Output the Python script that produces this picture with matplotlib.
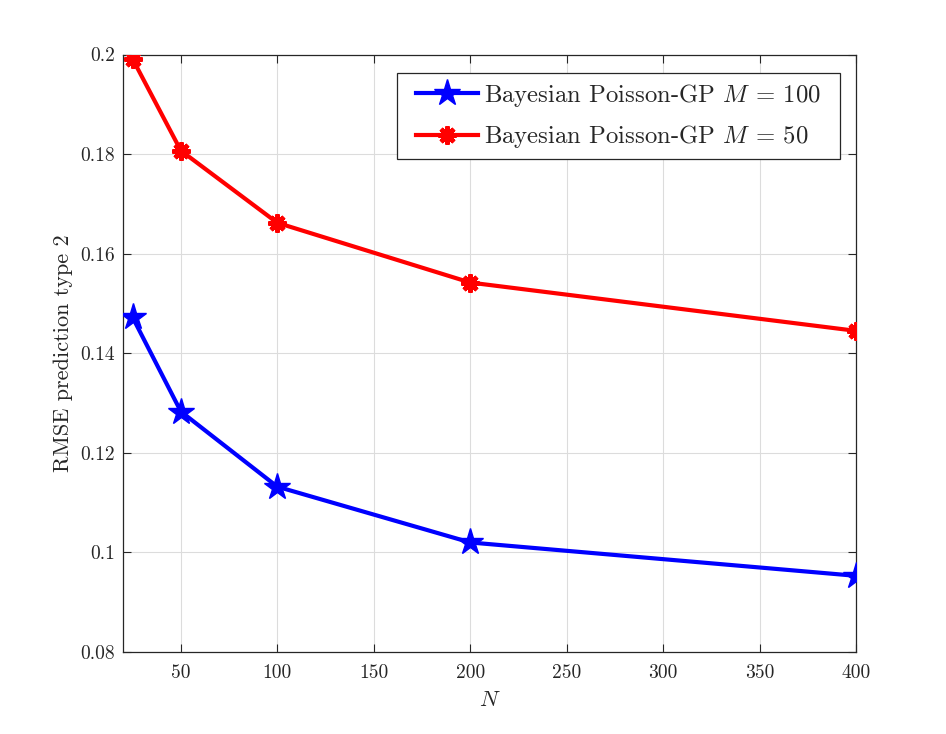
import matplotlib
matplotlib.use("Agg")
import matplotlib.pyplot as plt
from matplotlib.patches import Rectangle

plt.rcParams['font.family'] = ['serif']
plt.rcParams['font.serif'] = ['cmr10', 'DejaVu Serif']
plt.rcParams['mathtext.fontset'] = 'cm'
plt.rcParams['axes.formatter.use_mathtext'] = True

N = [25, 50, 100, 200, 400]
rmse_M100 = [0.1472, 0.1283, 0.1132, 0.1020, 0.0953]
rmse_M50 = [0.1991, 0.1807, 0.1662, 0.1542, 0.1445]
labels = [r'Bayesian Poisson-GP $M$ = 100', r'Bayesian Poisson-GP $M$ = 50']
xticks = [50, 100, 150, 200, 250, 300, 350, 400]
yticks = [0.08, 0.1, 0.12, 0.14, 0.16, 0.18, 0.2]
ytick_labels = ['0.08', '0.1', '0.12', '0.14', '0.16', '0.18', '0.2']

dark = '#262626'
fig = plt.figure(figsize=(9.46, 7.34), dpi=100)
ax = fig.add_axes([0.130, 0.1117, 0.775, 0.814])

ax.plot(N, rmse_M100, color='blue', lw=3, marker='*', ms=20, mec='blue', mfc='blue', label=labels[0], zorder=3)
ax.plot(N, rmse_M50, color='red', lw=3, marker=(8, 2, 0), ms=13, mew=3.2, mec='red', mfc='red', label=labels[1], zorder=3)

ax.set_xlim(20, 400)
ax.set_ylim(0.08, 0.2)
ax.set_xticks(xticks)
ax.set_xticklabels([str(v) for v in xticks])
ax.set_yticks(yticks)
ax.set_yticklabels(ytick_labels)
ax.grid(True, color='#dcdcdc', lw=0.8)
ax.set_axisbelow(True)
ax.tick_params(direction='in', top=True, right=True, length=6, width=0.8, colors=dark, labelsize=14)
ax.tick_params(axis='x', pad=9)
ax.tick_params(axis='y', pad=6)
for s in ax.spines.values():
    s.set_color(dark)
    s.set_linewidth(0.9)

ax.set_xlabel(r'$N$', fontsize=16, color=dark, labelpad=6)
ax.set_ylabel('RMSE prediction type 2', fontsize=16, color=dark, labelpad=5)

# legend frame (wider horizontal padding, as in the reference)
frame = Rectangle((0.3738, 0.8251), 0.978 - 0.3738, 0.9695 - 0.8251, transform=ax.transAxes,
                  facecolor='white', edgecolor=dark, lw=0.9, zorder=4.5)
ax.add_patch(frame)

leg = ax.legend(loc='upper left', bbox_to_anchor=(0.3997, 0.9548), fontsize=17.8, frameon=False,
                handlelength=2.5, borderpad=0, labelspacing=0.6,
                handletextpad=0.25, borderaxespad=0)
leg.set_zorder(5)
for t in leg.get_texts():
    t.set_color(dark)

fig.savefig('out.png', dpi=100)
